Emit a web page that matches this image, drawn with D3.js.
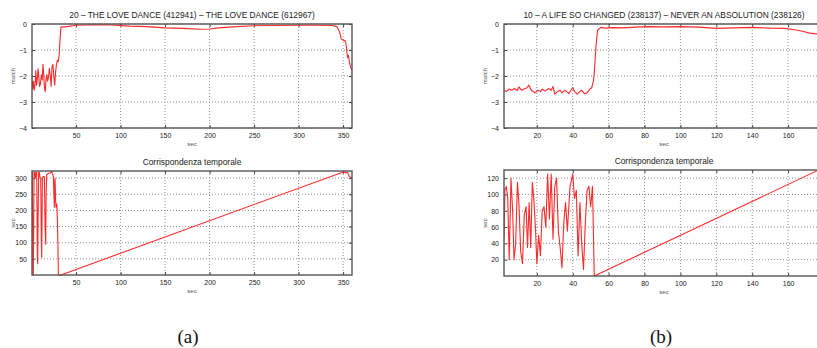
<!DOCTYPE html>
<html>
<head>
<meta charset="utf-8">
<script src="https://cdn.jsdelivr.net/npm/d3@7"></script>
<style>
  body { margin: 0; background: #fff; }
  svg { display: block; }
  text { font-family: "Liberation Sans", Arial, sans-serif; fill: #222; }
  .caption { font-family: "Liberation Serif", "DejaVu Serif", serif; fill: #111; }
</style>
</head>
<body>
<svg id="chart" width="817" height="348"></svg>
<script>
// (a) match score, THE LOVE DANCE vs THE LOVE DANCE  [sec, match]
var loveDanceMatch = [
    [0.5,-2.1],[1.3,-2.5],[2.2,-2.2],[3,-2.55],[4,-2.3],[4.8,-1.8],[5.6,-2.35],[6.5,-2.1],
    [7.3,-1.72],[8.2,-2.05],[9,-2.4],[10,-2.3],[11,-1.95],[12,-2.15],[12.8,-1.55],[13.6,-1.9],
    [14.5,-2.45],[15.4,-2.6],[16.3,-2.1],[17.2,-1.95],[18,-2.2],[19,-2.05],[20,-1.7],[21,-1.95],
    [22,-2.4],[23,-1.65],[24,-1.55],[25,-2.0],[26,-2.35],[27,-1.85],[28,-1.55],[29,-1.4],
    [30,-1.45],[31,-1.2],[32,-0.6],[33,-0.12],[40,-0.1],[50,-0.05],[70,-0.03],[90,-0.04],
    [110,-0.08],[130,-0.1],[150,-0.15],[170,-0.17],[190,-0.2],[200,-0.19],[210,-0.15],[230,-0.1],
    [250,-0.07],[275,-0.06],[300,-0.05],[320,-0.05],[338,-0.06],[343,-0.1],[346,-0.3],[348,-0.58],
    [350,-0.62],[352,-0.64],[353,-0.7],[354,-1.0],[355,-1.3],[356,-1.2],[357,-1.45],[358,-1.6],
    [359,-1.7],[360,-1.8]
];
// (a) time correspondence [sec, sec]
var loveDanceCorr = [
    [0.2,165],[0.9,318],[1.5,0],[2,0],[2.8,318],[3.5,318],[4.2,300],[5,318],[5.8,318],[6.5,60],
    [6.9,35],[7.4,200],[8,318],[8.8,318],[9.5,300],[10.3,300],[11,100],[11.4,55],[12.2,300],
    [13,305],[14.4,305],[15.2,150],[15.9,95],[16.4,250],[17,310],[19,315],[20.8,315],[22.6,321],
    [24,310],[24.5,305],[25,260],[25.6,210],[26,290],[26.4,300],[27,230],[27.5,210],[28.3,220],
    [29,175],[29.6,100],[30.1,5],[31,0],[32,0],[33,0],[351,320],[353,316],[355,318],[357,305],
    [360,300]
];
// (b) match score, A LIFE SO CHANGED vs NEVER AN ABSOLUTION
var lifeChangedMatch = [
    [1.7,-2.54],[3,-2.6],[4.5,-2.5],[6,-2.55],[7.5,-2.48],[9,-2.56],[10,-2.42],[11.5,-2.55],
    [13,-2.5],[14.5,-2.45],[15.5,-2.35],[17,-2.55],[19,-2.65],[20.5,-2.55],[22,-2.6],[23,-2.5],
    [24.5,-2.58],[26.6,-2.48],[28,-2.55],[29,-2.4],[30,-2.7],[31.5,-2.6],[33,-2.55],[34,-2.65],
    [35.5,-2.55],[37,-2.62],[37.8,-2.68],[39,-2.55],[40,-2.45],[41,-2.6],[42.5,-2.7],[44,-2.6],
    [45,-2.55],[46.5,-2.68],[48,-2.65],[49.5,-2.5],[50.6,-2.45],[51.5,-2.2],[52,-1.9],[52.9,-0.9],
    [53.8,-0.25],[55.6,-0.13],[58,-0.16],[62,-0.14],[68,-0.15],[75,-0.12],[82,-0.1],[90,-0.11],
    [100,-0.1],[110,-0.12],[120,-0.17],[130,-0.15],[140,-0.13],[150,-0.16],[158,-0.17],
    [164.5,-0.23],[168,-0.28],[172,-0.35],[176,-0.38],[180,-0.4]
];
// (b) time correspondence
var lifeChangedCorr = [
    [1.7,45],[2.2,105],[3,110],[3.8,95],[4.6,20],[5.6,120],[6.5,80],[7.3,20],[8.2,40],[9.2,115],
    [10,90],[11,30],[12,15],[13,75],[14,85],[14.8,35],[15.7,90],[16.6,35],[17.5,115],[18.3,95],
    [19.2,60],[20,15],[21,50],[22,25],[23,80],[24,85],[25,60],[26,125],[27,70],[28,125],[29,45],
    [30,110],[31,120],[32,55],[33,35],[34,10],[35,65],[36,90],[37,55],[38.5,110],[40,125],
    [41,95],[42,105],[43,25],[44,90],[45,40],[46,8],[47,65],[48,105],[49,110],[50,85],[51,110],
    [52,0],[177,130]
];

var titleA = "20 \u2013 THE LOVE DANCE (412941) \u2013 THE LOVE DANCE (612967)";
var titleB = "10 \u2013 A LIFE SO CHANGED (238137) \u2013 NEVER AN ABSOLUTION (238126)";
var corrTitle = "Corrispondenza temporale";
var ticksA = [50, 100, 150, 200, 250, 300, 350];
var ticksB = [20, 40, 60, 80, 100, 120, 140, 160];
var matchTicks = [-4, -3, -2, -1, 0];
var corrTicksA = [50, 100, 150, 200, 250, 300];
var corrTicksB = [20, 40, 60, 80, 100, 120];

var svg = d3.select('#chart');
var panelId = 0;

function drawPanel(p) {
    panelId++;
    var x = d3.scaleLinear().domain(p.xDomain).range([p.left, p.right]);
    var y = d3.scaleLinear().domain(p.yDomain).range([p.bottom, p.top]);
    var g = svg.append('g');

    g.append('clipPath').attr('id', 'clip' + panelId)
        .append('rect')
        .attr('x', p.left).attr('y', p.top - 1)
        .attr('width', p.right - p.left).attr('height', p.bottom - p.top + 2);

    // dotted grid
    g.selectAll('.gx').data(p.xTicks).enter().append('line')
        .attr('x1', d => x(d)).attr('x2', d => x(d))
        .attr('y1', p.top).attr('y2', p.bottom)
        .style('stroke', '#777').style('stroke-width', 0.8)
        .style('stroke-dasharray', '1,2');
    g.selectAll('.gy').data(p.yTicks).enter().append('line')
        .attr('x1', p.left).attr('x2', p.right)
        .attr('y1', d => y(d)).attr('y2', d => y(d))
        .style('stroke', '#777').style('stroke-width', 0.8)
        .style('stroke-dasharray', '1,2');

    // matlab style inward ticks on every side
    var fmt = d => String(d).replace('-', '\u2212');
    var xb = d3.axisBottom(x).tickValues(p.xTicks).tickSizeInner(-3).tickSizeOuter(0).tickPadding(5).tickFormat(fmt);
    var yl = d3.axisLeft(y).tickValues(p.yTicks).tickSizeInner(-3).tickSizeOuter(0).tickPadding(5).tickFormat(fmt);
    var xt = d3.axisTop(x).tickValues(p.xTicks).tickSizeInner(-3).tickSizeOuter(0).tickFormat('');
    var yr = d3.axisRight(y).tickValues(p.yTicks).tickSizeInner(-3).tickSizeOuter(0).tickFormat('');

    var axes = [
        g.append('g').attr('transform', 'translate(0,' + p.bottom + ')').call(xb),
        g.append('g').attr('transform', 'translate(' + p.left + ',0)').call(yl),
        g.append('g').attr('transform', 'translate(0,' + p.top + ')').call(xt),
        g.append('g').attr('transform', 'translate(' + p.right + ',0)').call(yr)
    ];
    axes.forEach(function (a) {
        a.select('.domain').remove();
        a.selectAll('line').style('stroke', '#444');
        a.selectAll('text').style('font-family', '"Liberation Sans", Arial, sans-serif')
            .style('font-size', '7px').style('fill', '#222');
    });

    var line = d3.line().x(d => x(d[0])).y(d => y(d[1]));
    g.append('path')
        .datum(p.data)
        .attr('clip-path', 'url(#clip' + panelId + ')')
        .attr('d', line)
        .style('fill', 'none')
        .style('stroke', '#ff2a2a')
        .style('stroke-width', 1.1)
        .style('stroke-linejoin', 'round');

    g.append('rect')
        .attr('x', p.left).attr('y', p.top)
        .attr('width', p.right - p.left).attr('height', p.bottom - p.top)
        .style('fill', 'none').style('stroke', '#555').style('stroke-width', 1.4);

    var cx = (p.left + p.right) / 2;
    g.append('text').attr('x', cx).attr('y', p.top - 6)
        .attr('text-anchor', 'middle').style('font-size', '8.4px').text(p.title);
    g.append('text').attr('x', cx).attr('y', p.bottom + 18)
        .attr('text-anchor', 'middle').style('font-size', '6px').style('fill', '#555').text('sec');
    g.append('text')
        .attr('transform', 'translate(' + (p.left - 17) + ',' + ((p.top + p.bottom) / 2) + ') rotate(-90)')
        .attr('text-anchor', 'middle').style('font-size', '6px').style('fill', '#555').text(p.ylabel);
}

drawPanel({ left: 32, right: 352, top: 24, bottom: 128, xDomain: [0.5, 360], yDomain: [-4, 0],
    xTicks: ticksA, yTicks: matchTicks, data: loveDanceMatch, title: titleA, ylabel: 'match' });
drawPanel({ left: 32, right: 352, top: 171, bottom: 275, xDomain: [0.5, 360], yDomain: [0, 322],
    xTicks: ticksA, yTicks: corrTicksA, data: loveDanceCorr, title: corrTitle, ylabel: 'sec' });
drawPanel({ left: 504, right: 824, top: 24, bottom: 128, xDomain: [1.7, 180], yDomain: [-4, 0],
    xTicks: ticksB, yTicks: matchTicks, data: lifeChangedMatch, title: titleB, ylabel: 'match' });
drawPanel({ left: 504, right: 824, top: 170, bottom: 276, xDomain: [1.7, 180], yDomain: [0, 130],
    xTicks: ticksB, yTicks: corrTicksB, data: lifeChangedCorr, title: corrTitle, ylabel: 'sec' });

svg.append('text').attr('class', 'caption').attr('x', 188).attr('y', 343)
    .attr('text-anchor', 'middle').style('font-size', '19px').text('(a)');
svg.append('text').attr('class', 'caption').attr('x', 661).attr('y', 343)
    .attr('text-anchor', 'middle').style('font-size', '19px').text('(b)');
</script>
</body>
</html>
